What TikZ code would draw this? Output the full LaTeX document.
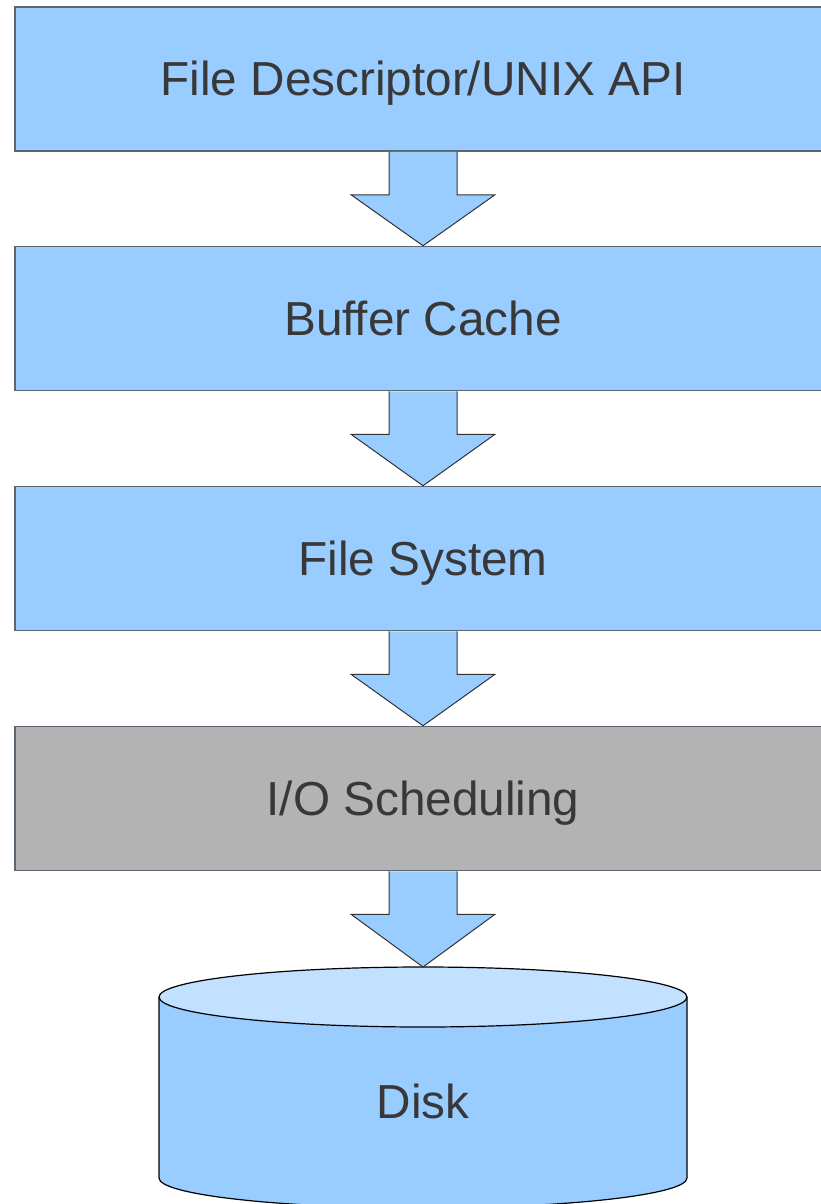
\documentclass[tikz,border=0pt]{standalone}
\usepackage{fontspec}
\setmainfont[Ligatures=NoCommon]{Liberation Sans}
\usetikzlibrary{calc}
\definecolor{boxblue}{HTML}{99CCFF}
\definecolor{diskTop}{HTML}{C2E0FF}
\definecolor{boxgray}{HTML}{B3B3B3}
\definecolor{edge}{HTML}{5A6672}
\definecolor{txt}{HTML}{383838}
\begin{document}
\begin{tikzpicture}[x=1pt,y=-1pt,
  label text/.style={text=txt,font=\fontsize{47.7}{56}\selectfont,text height=40pt,text depth=6pt,inner sep=0pt},
  layer/.style={label text,draw=edge,line width=1.5pt,fill=boxblue,minimum width=816pt,minimum height=144pt},
  flowarrow/.style={draw=black!80,line width=1pt,fill=boxblue,line join=miter}]
\useasboundingbox (0,0) rectangle (821,1204);
\node[layer] (api) at (423,79) {File Descriptor/UNIX API};
\node[layer] (cache) at (423,318.5) {Buffer Cache};
\node[layer] (fs) at (423,558.5) {File System};
\node[layer,fill=boxgray] (io) at (423,798.5) {I/O Scheduling};
% disk cylinder
\fill[boxblue] (159,997) -- (159,1178) arc[start angle=180,end angle=360,x radius=264,y radius=-30] -- (687,997) -- cycle;
\draw[black,line width=1.2pt] (159,997) -- (159,1178) arc[start angle=180,end angle=360,x radius=264,y radius=-30] -- (687,997);
\draw[black,line width=1.2pt,fill=diskTop] (423,997) ellipse[x radius=264,y radius=30];
\coordinate (disktop) at (423,967);
\node[label text] (disk) at (423,1101.5) {Disk};
% arrows
\foreach \a/\b in {api/cache,cache/fs,fs/io,io/disktop}{
  \draw[flowarrow] ($(\a.south)+(-34,0)$) -- ($(\a.south)+(-34,43)$) -- ($(\a.south)+(-72,43)$) -- (\b.north) -- ($(\a.south)+(72,43)$) -- ($(\a.south)+(34,43)$) -- ($(\a.south)+(34,0)$);
}
\end{tikzpicture}
\end{document}
